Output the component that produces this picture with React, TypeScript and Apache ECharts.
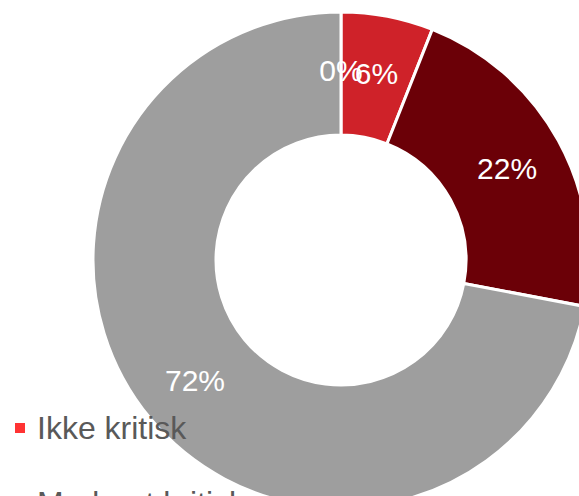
import React, { useEffect, useRef } from "react";
import * as echarts from "echarts";

const categories = ["Ikke kritisk", "Moderat kritisk", "Svært kritisk", "Ikke vurdert"];
const values = [0, 6, 22, 72];
const colors = ["#ff3333", "#cf2229", "#6b0007", "#9e9e9e"];

export default function App() {
  const ref = useRef<HTMLDivElement>(null);
  useEffect(() => {
    if (!ref.current) return;
    const chart = echarts.init(ref.current, null, { renderer: "svg" });
    chart.setOption({
      animation: false,
      legend: {
        orient: "vertical",
        left: 8,
        top: 407,
        height: 600,
        itemWidth: 12,
        itemHeight: 12,
        itemGap: 43,
        icon: "rect",
        textStyle: {
          fontSize: 32,
          color: "#595959",
          fontFamily: "Liberation Sans, Arial, sans-serif",
          padding: [0, 0, 0, 6],
        },
        data: categories,
      },
      series: [
        {
          type: "pie",
          center: [341, 260],
          radius: [125, 248],
          startAngle: 90,
          clockwise: true,
          avoidLabelOverlap: false,
          legendHoverLink: false,
          minShowLabelAngle: 0,
          labelLayout: { hideOverlap: false },
          itemStyle: { borderColor: "#ffffff", borderWidth: 3 },
          label: {
            show: true,
            position: "inside",
            color: "#ffffff",
            fontSize: 30,
            overflow: "none",
            fontFamily: "Liberation Sans, Arial, sans-serif",
            formatter: (p: any) => Math.round(p.percent) + "%",
          },
          labelLine: { show: false },
          data: categories.map((name, i) => ({
            name,
            value: values[i],
            itemStyle: { color: colors[i] },
          })),
        },
      ],
    });
    return () => chart.dispose();
  }, []);
  return (
    <div
      ref={ref}
      style={{ position: "fixed", left: 0, top: 0, width: 579, height: 496, background: "#ffffff" }}
    />
  );
}
